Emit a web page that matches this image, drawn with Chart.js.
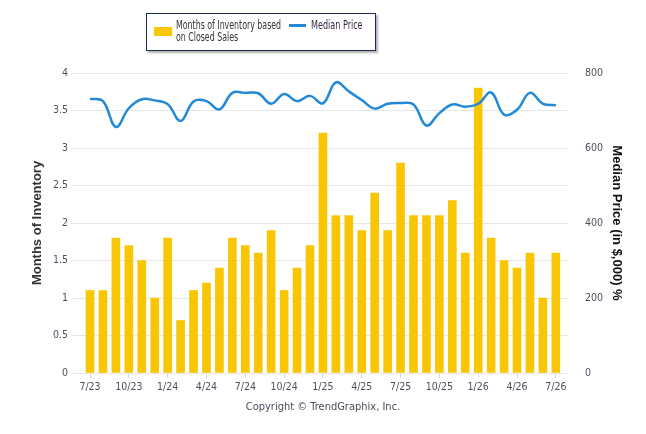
<!DOCTYPE html>
<html>
<head>
<meta charset="utf-8">
<script src="https://cdn.jsdelivr.net/npm/chart.js@4.4.0/dist/chart.umd.min.js"></script>
<style>
  body { margin: 0; background: #fff; }
  #wrap { position: relative; width: 646px; height: 434px; }
  #chart { position: absolute; left: 0; top: 0; }
  .legend {
    position: absolute; left: 146px; top: 13px; width: 228px; height: 36px;
    border: 1.5px solid #1c2c4c; background: #fff;
    box-shadow: 2px 2px 2px #b0b0b0;
    font-family: 'DejaVu Sans Condensed', 'Liberation Sans Narrow', 'Liberation Sans', sans-serif;
    font-size: 11.5px; color: #333; line-height: 12px;
  }
  .legend .box { position: absolute; left: 7px; top: 13px; width: 18px; height: 9px; background: #f9c606; }
  .legend .t1 { position: absolute; left: 29px; top: 5px; white-space: nowrap; transform: scaleX(0.76); transform-origin: 0 0; }
  .legend .ln { position: absolute; left: 142px; top: 10px; width: 17px; height: 2.5px; background: #2389d7; }
  .legend .t2 { position: absolute; left: 164px; top: 5px; white-space: nowrap; color: #3a2540; transform: scaleX(0.78); transform-origin: 0 0; }
  .copy {
    position: absolute; left: 0; width: 646px; top: 400px; text-align: center;
    font-family: 'DejaVu Sans Condensed', 'Liberation Sans Narrow', 'Liberation Sans', sans-serif;
    font-size: 11px; color: #4a4a5a;
  }
</style>
</head>
<body>
<div id="wrap">
  <canvas id="chart" width="646" height="434"></canvas>
  <div class="legend">
    <div class="box"></div>
    <div class="t1">Months of Inventory based<br>on Closed Sales</div>
    <div class="ln"></div>
    <div class="t2">Median Price</div>
  </div>
  <div class="copy">Copyright &copy; TrendGraphix, Inc.</div>
</div>
<script>
// months, 7/23 .. 7/26
const categories = ['7/23', '8/23', '9/23', '10/23', '11/23', '12/23', '1/24', '2/24', '3/24',
  '4/24', '5/24', '6/24', '7/24', '8/24', '9/24', '10/24', '11/24', '12/24', '1/25', '2/25',
  '3/25', '4/25', '5/25', '6/25', '7/25', '8/25', '9/25', '10/25', '11/25', '12/25', '1/26',
  '2/26', '3/26', '4/26', '5/26', '6/26', '7/26'];

// months of inventory (left axis)
const inventory = [1.1, 1.1, 1.8, 1.7, 1.5, 1.0, 1.8, 0.7, 1.1, 1.2, 1.4, 1.8, 1.7, 1.6, 1.9,
  1.1, 1.4, 1.7, 3.2, 2.1, 2.1, 1.9, 2.4, 1.9, 2.8, 2.1, 2.1, 2.1, 2.3, 1.6, 3.8, 1.8, 1.5,
  1.4, 1.6, 1.0, 1.6];

// median price in $,000 (right axis)
const medianPrice = [731, 725, 656, 706, 730, 727, 717, 672, 724, 725, 703, 747, 747, 746, 718,
  744, 725, 739, 719, 775, 751, 728, 705, 718, 720, 716, 660, 693, 716, 710, 718, 748, 689,
  702, 747, 718, 714];

const labelStep = 3;

const narrow = "'DejaVu Sans Condensed', 'Liberation Sans Narrow', 'Liberation Sans', sans-serif";
const tickFont = { family: narrow, size: 10.5 };
const tickColor = '#4d5060';
const titleFont = { family: "'Liberation Sans', Arial, sans-serif", size: 13, weight: 'bold' };

const ctx = document.getElementById('chart').getContext('2d');
new Chart(ctx, {
  data: {
    datasets: [{
      type: 'bar',
      label: 'Months of Inventory based on Closed Sales',
      data: inventory.map((v, i) => ({ x: i, y: v })),
      backgroundColor: '#f9c606',
      barThickness: 8,
      yAxisID: 'y',
      order: 2
    }, {
      type: 'line',
      label: 'Median Price',
      data: medianPrice.map((v, i) => ({ x: i, y: v })),
      borderColor: '#2389d7',
      borderWidth: 2.5,
      tension: 0.4,
      pointRadius: 0,
      fill: false,
      yAxisID: 'y1',
      order: 1
    }]
  },
  options: {
    responsive: false,
    animation: false,
    layout: { padding: { top: 73, left: 0, right: 0, bottom: 0 } },
    plugins: {
      legend: { display: false },
      tooltip: { enabled: false }
    },
    scales: {
      x: {
        type: 'linear',
        offset: false,
        min: -1.47,
        max: 36.94,
        afterBuildTicks: s => {
          s.ticks = categories.map((c, i) => i).filter(i => i % labelStep === 0).map(v => ({ value: v }));
        },
        ticks: {
          callback: v => categories[v],
          autoSkip: false,
          maxRotation: 0,
          padding: 3,
          font: tickFont,
          color: tickColor
        },
        grid: { drawOnChartArea: false, offset: false, tickLength: 5, color: '#ccd6eb' },
        border: { display: false },
        afterFit: s => { s.height = 61; }
      },
      y: {
        position: 'left',
        min: 0,
        max: 4,
        ticks: { stepSize: 0.5, padding: 3, font: tickFont, color: tickColor, callback: v => String(v) },
        grid: { color: '#e6e6e6', drawTicks: false },
        border: { display: false },
        title: {
          display: true,
          text: 'Months of Inventory',
          font: titleFont,
          color: '#333',
          padding: { top: 30, bottom: 0 }
        },
        afterFit: s => { s.width = 71; }
      },
      y1: {
        position: 'right',
        min: 0,
        max: 800,
        ticks: { stepSize: 200, padding: 9, font: tickFont, color: tickColor, callback: v => String(v) },
        grid: { display: false },
        border: { display: false },
        title: {
          display: true,
          text: 'Median Price (in $,000) %',
          font: titleFont,
          color: '#111',
          padding: { top: 22, bottom: 0 }
        },
        afterFit: s => { s.width = 78; }
      }
    }
  }
});
</script>
</body>
</html>
